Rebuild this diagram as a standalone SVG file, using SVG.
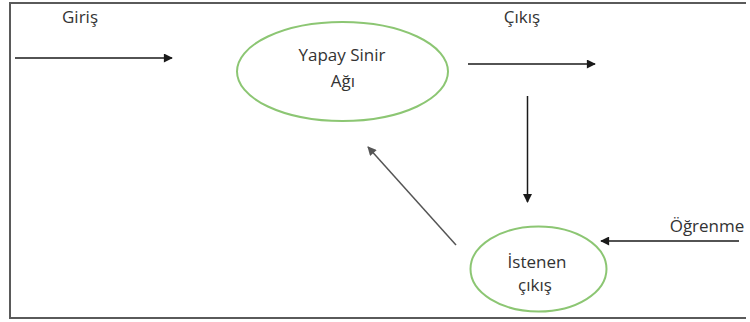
<svg xmlns="http://www.w3.org/2000/svg" width="750" height="322" viewBox="0 0 750 322">
  <style>
    .frame { fill: none; stroke: #5a5a5a; stroke-width: 2; }
    .node { fill: #ffffff; stroke: #8cc673; stroke-width: 2; }
    .label { font-family: "Open Sans", "Liberation Sans", sans-serif; font-size: 17px; fill: #333333; text-anchor: middle; }
    .edge { fill: none; stroke: #1a1a1a; stroke-width: 1.5; }
    .edge.soft { stroke: #555555; }
  </style>
  <defs>
    <marker id="head" viewBox="0 0 10 10" refX="9" refY="5" markerUnits="userSpaceOnUse" markerWidth="11" markerHeight="9" orient="auto">
      <path d="M0,0 L10,5 L0,10 Z" fill="#1a1a1a"/>
    </marker>
    <marker id="head-soft" viewBox="0 0 10 10" refX="9" refY="5" markerUnits="userSpaceOnUse" markerWidth="11" markerHeight="9" orient="auto">
      <path d="M0,0 L10,5 L0,10 Z" fill="#555555"/>
    </marker>
  </defs>

  <rect width="750" height="322" fill="#ffffff"/>
  <path class="frame" d="M746,3 H10 V318 H746"/>

  <!-- free labels -->
  <text class="label" x="80" y="23">Giriş</text>
  <text class="label" x="522" y="23">Çıkış</text>
  <text class="label" x="707" y="232">Öğrenme</text>

  <g id="network">
    <ellipse class="node" cx="342.5" cy="71.5" rx="105.5" ry="49.5"/>
    <text class="label" x="342" y="61">Yapay Sinir</text>
    <text class="label" x="343" y="87">Ağı</text>
  </g>

  <g id="target">
    <ellipse class="node" cx="538.5" cy="269" rx="68" ry="42.5"/>
    <text class="label" x="537" y="268">İstenen</text>
    <text class="label" x="535" y="291">çıkış</text>
  </g>

  <g id="connectors">
    <line class="edge" x1="15" y1="58" x2="172" y2="58" marker-end="url(#head)"/>
    <line class="edge" x1="468" y1="64" x2="595" y2="64" marker-end="url(#head)"/>
    <line class="edge" x1="527.5" y1="96" x2="527.5" y2="202" marker-end="url(#head)"/>
    <line class="edge soft" x1="456" y1="245" x2="368" y2="147" marker-end="url(#head-soft)"/>
    <line class="edge" x1="739" y1="241" x2="601" y2="241" marker-end="url(#head)"/>
  </g>
</svg>
